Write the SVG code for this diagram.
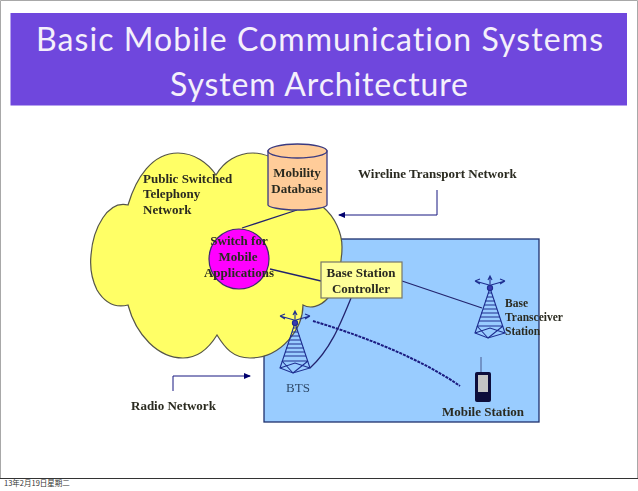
<svg xmlns="http://www.w3.org/2000/svg" xmlns:xlink="http://www.w3.org/1999/xlink" width="638" height="491" viewBox="0 0 638 491">
<style>
.t{font-family:"Liberation Serif","Times New Roman",serif;font-weight:bold;font-size:13px;fill:#2b2b20}
.s{font-size:11.500px}
.m{text-anchor:middle}
.title{font-family:Lato,"Open Sans",sans-serif;font-size:32px;fill:#f4f0fb;text-anchor:middle;font-variant-ligatures:none}
.c{fill:none;stroke:#24246e;stroke-width:1.3}
.b{fill:none;stroke:#1a1a80;stroke-width:1}
</style>
<defs>
<filter id="soft" x="-5%" y="-5%" width="110%" height="110%"><feGaussianBlur stdDeviation="0.45"/></filter>
<marker id="ah" markerWidth="7" markerHeight="6" refX="6" refY="3" orient="auto" markerUnits="userSpaceOnUse"><path d="M0 0L7 3L0 6Z" fill="#00006e"/></marker>
<g id="tower" fill="none" stroke="#1f2f90" stroke-width="1.100">
<path d="M0 0L-15 45L-2 50L15 45Z"/>
<path d="M-2 5H2M-3 9H3M-5 13H5M-6 17H6M-7 21H7M-9 25H9M-10 29H10M-11 33H11M-13 38H13M-15 45L0 40L15 45M-13 38L-2 50M13 38L-2 50"/>
<path d="M0 -3V-11M-2 -8L0 -12L2 -8M-1 -3L-15 -7M1 -3L15 -7M-15 -7L-10 -9M-15 -7L-10 -4M15 -7L10 -9M15 -7L10 -4"/>
<circle cx="0" cy="0" r="2.600" fill="#3a3ab0"/>
</g>
</defs>
<rect width="638" height="491" fill="#fff"/>
<path d="M0.500 478.500V0.500H637.500V478" fill="none" stroke="#a8a8a8"/>
<path d="M0 478.500H638" stroke="#333" stroke-width="1"/>
<g id="title-bar">
<rect x="10.500" y="13" width="616.500" height="92.500" fill="#6f47dd"/>
<text class="title" x="319.500" y="51" textLength="567" lengthAdjust="spacing">Basic Mobile Communication Systems</text>
<text class="title" x="319" y="96" textLength="298" lengthAdjust="spacing">System Architecture</text>
</g>
<g filter="url(#soft)">
<g id="radio-network-area">
<rect x="264" y="239" width="275" height="183" fill="#99ccff" stroke="#1f2f6e" stroke-width="1.300"/>
</g>
<g id="pstn-cloud">
<path d="M128 205C136 178 152 153 178 153C194 153 208 163 216 175C224 161 238 153 253 153C275 153 312 180 323 207C335 217 342 233 342 247C342 268 335 292 328 298C320 307 310 309 303 305C303 328 282 358 250 358C233 358 225 348 217 335C209 348 199 358 183 358C158 358 136 335 128 305C112 309 103 300 97 290C91 278 90 265 91 255C93 228 108 200 128 205Z" fill="#ffff66" stroke="#55554a" stroke-width="1.200"/>
<text class="t" x="143" y="183">Public Switched</text>
<text class="t" x="143" y="198">Telephony</text>
<text class="t" x="143" y="214">Network</text>
</g>
<g id="connectors">
<path class="c" d="M297 210L242 228"/>
<path class="c" d="M270 269L321 281"/>
<path class="c" d="M402 281L482 308"/>
<path class="c" d="M351 298C340 325 330 350 310 368"/>
<path d="M313 321C360 335 420 358 460 386" fill="none" stroke="#1a1a80" stroke-width="2" stroke-dasharray="3 1"/>
<path class="b" d="M437 190V215H339" marker-end="url(#ah)" stroke="#333399"/>
<path class="b" d="M173 391V376H250" marker-end="url(#ah)"/>
</g>
<g id="mobility-database">
<path d="M268 151V205C268 207 280 210 297.500 210C315 210 327 207 327 205V151Z" fill="#ffcc99" stroke="#3a3a80" stroke-width="1.300"/>
<ellipse cx="297.500" cy="151" rx="29.500" ry="7" fill="#ffcc99" stroke="#3a3a80" stroke-width="1.300"/>
<text class="t m" x="297" y="177">Mobility</text>
<text class="t m" x="297" y="193">Database</text>
</g>
<g id="switch">
<circle cx="239" cy="259" r="30" fill="#ff00ff" stroke="#3a2a70" stroke-width="1.200"/>
<text class="t m" x="239" y="245">Switch for</text>
<text class="t m" x="238" y="261">Mobile</text>
<text class="t m" x="239" y="277">Applications</text>
</g>
<g id="base-station-controller">
<rect x="321" y="262" width="81" height="36" fill="#ffff99" stroke="#77776a" stroke-width="1.200"/>
<text class="t m" x="361" y="277">Base Station</text>
<text class="t m" x="361" y="293">Controller</text>
</g>
<g id="bts"><use xlink:href="#tower" href="#tower" x="295" y="323"/>
<text x="298" y="392" text-anchor="middle" font-family="'Liberation Serif',serif" font-size="13" fill="#2f4a6a">BTS</text></g>
<g id="base-transceiver-station"><use xlink:href="#tower" href="#tower" x="490" y="288"/>
<text class="t s" x="505" y="307">Base</text>
<text class="t s" x="505" y="321">Transceiver</text>
<text class="t s" x="505" y="335">Station</text></g>
<g id="mobile-station">
<path d="M481 357V373" stroke="#4a5a90" stroke-width="1"/>
<rect x="475" y="372" width="16" height="30" rx="2" fill="#0a0a3a"/>
<rect x="478" y="375" width="10" height="17" fill="#c4c4c4"/>
<text class="t m" x="483" y="416">Mobile Station</text>
</g>
<g id="labels">
<text class="t" x="358" y="178">Wireline Transport Network</text>
<text class="t" x="131" y="410">Radio Network</text>
</g>
</g>
<text x="4" y="486" font-family="'Noto Sans CJK TC','Noto Sans CJK SC',sans-serif" font-size="7.500" fill="#333">13年2月19日星期二</text>
</svg>
